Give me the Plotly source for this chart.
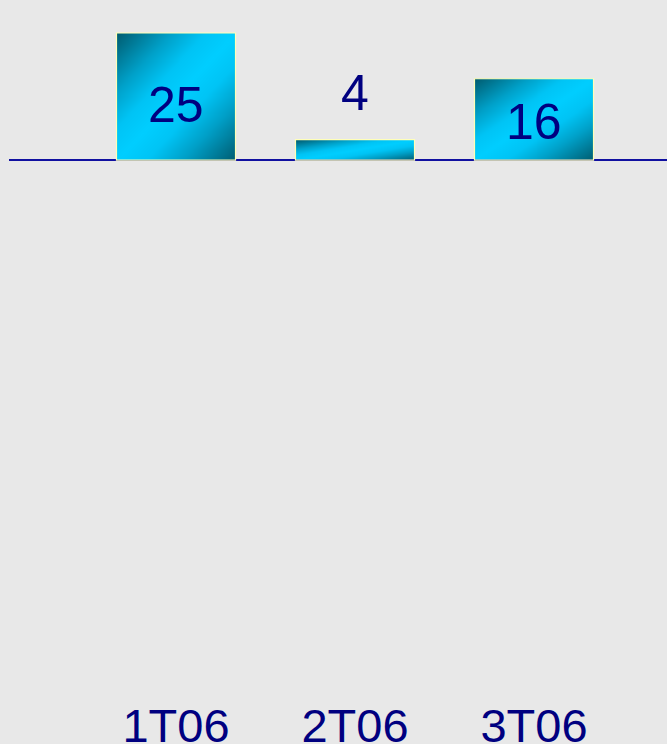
import numpy as np
import plotly.graph_objects as go

categories = ["1T06", "2T06", "3T06"]
values = [25, 4, 16]
label_shift = [-8, 17, -3]      # pixel nudges for value labels
label_inside = [True, False, True]

BAR_W = 0.665
NAVY = "#000080"
BG = "#e8e8e8"

fig = go.Figure()

# gradient fill of each bar (diagonal reflected gradient, dark corners -> cyan band)
colorscale = [
    [0.0, "rgb(0,206,255)"],
    [0.25, "rgb(0,196,245)"],
    [0.55, "rgb(0,160,200)"],
    [1.0, "rgb(0,92,112)"],
]
NX, NY = 60, 40
for i, v in enumerate(values):
    xe = np.linspace(i - BAR_W / 2, i + BAR_W / 2, NX + 1)
    ye = np.linspace(0, v, NY + 1)
    u = (np.arange(NX) + 0.5) / NX
    w = 1 - (np.arange(NY) + 0.5) / NY  # 0 at top, 1 at bottom
    U, W = np.meshgrid(u, w)
    z = np.abs((U + W) / 2 - 0.5) * 2
    fig.add_trace(go.Heatmap(
        x=xe, y=ye, z=z, zmin=0, zmax=1, colorscale=colorscale,
        showscale=False, hoverinfo="skip", zsmooth="best",
    ))

# bar outlines
fig.add_trace(go.Bar(
    x=list(range(len(categories))), y=values, width=BAR_W,
    marker=dict(color="rgba(0,0,0,0)", line=dict(color="#ffffb8", width=1.2)),
    hoverinfo="skip", showlegend=False,
))

for i, v in enumerate(values):
    if label_inside[i]:
        fig.add_annotation(x=i, y=v / 2, text=str(v), showarrow=False,
                           yanchor="middle", yshift=label_shift[i],
                           font=dict(family="Liberation Sans, Arial", size=50, color=NAVY))
    else:
        fig.add_annotation(x=i, y=v, text=str(v), showarrow=False,
                           yanchor="bottom", yshift=label_shift[i],
                           font=dict(family="Liberation Sans, Arial", size=50, color=NAVY))

fig.update_layout(
    width=667, height=744,
    margin=dict(l=9, r=0, t=10, b=50, autoexpand=False),
    paper_bgcolor=BG, plot_bgcolor=BG,
    showlegend=False,
    xaxis=dict(
        range=[-0.933, 2.743], tickmode="array",
        tickvals=list(range(len(categories))), ticktext=categories,
        showgrid=False, zeroline=False, showline=False, ticks="",
        automargin=False,
        tickfont=dict(family="Liberation Sans, Arial", size=47, color=NAVY),
    ),
    yaxis=dict(
        range=[-105.1, 29.53], showgrid=False, showticklabels=False, ticks="",
        zeroline=True, zerolinecolor="#1010a0", zerolinewidth=2,
        layer="above traces", automargin=False,
    ),
)

fig.write_html("out.html", config={"displayModeBar": False},
               post_script="document.body.style.margin='0';document.body.style.background='#e8e8e8';")
